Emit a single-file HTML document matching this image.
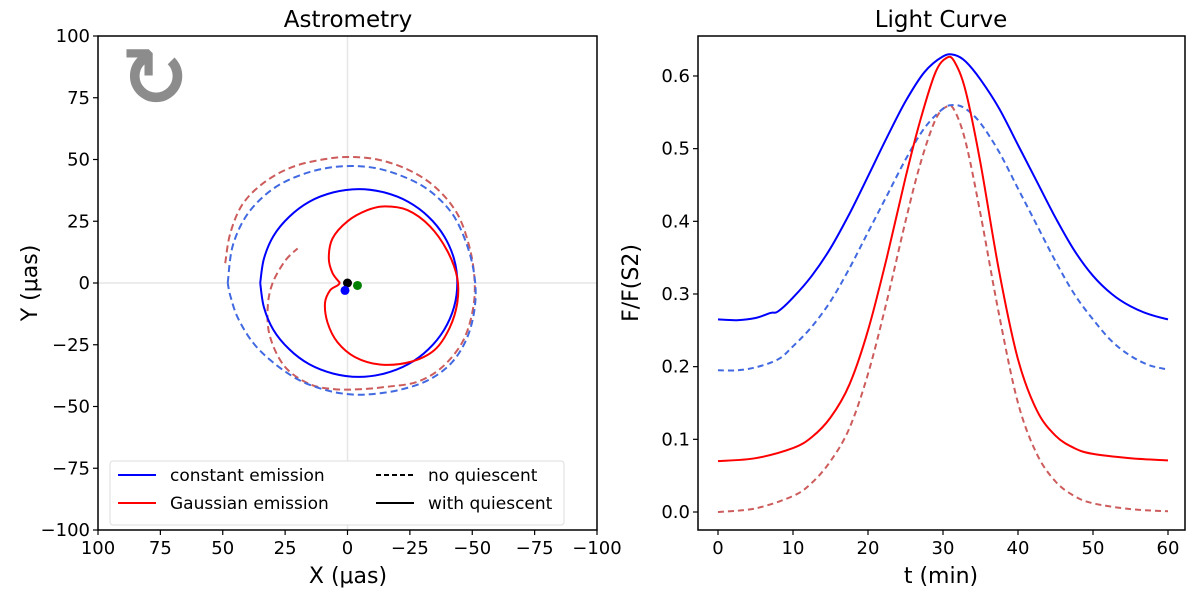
<!DOCTYPE html>
<html><head><meta charset="utf-8"><style>
body{margin:0;background:#fff;}
svg{display:block;font-family:"DejaVu Sans","Liberation Sans",sans-serif;}
</style></head><body>
<svg id="fig" width="1200" height="598" viewBox="0 0 1200 598">
</svg>
<script>
// ---------- Astrometry data (x, y in µas) ----------
const blueSolidX = [35,33.5,29.7,23.3,15.3,5.7,-4.5,-14.7,-24.3,-32.4,-38.7,-42.7,-44,-42.7,-38.7,-32.4,-24.3,-14.7,-4.5,5.7,15.3,23.3,29.7,33.5,35];
const blueSolidY = [0,9.8,19,26.9,32.9,36.7,38,36.7,32.9,26.9,19,9.8,0,-9.8,-19,-26.9,-32.9,-36.7,-38,-36.7,-32.9,-26.9,-19,-9.8,0];
const blueDashX = [48,46,40,30,18,5,-8,-20,-32,-42,-48,-51,-51,-48,-42,-33,-22,-10,0,10,20,30,38,44,47,48];
const blueDashY = [0,15,28,38,44,47,47,44,38,28,15,2,-10,-22,-32,-39,-43,-45,-45,-43,-39,-32,-24,-14,-5,0];
const redDashX = [49,47,42,33,22,10,0,-12,-24,-35,-44,-49,-51,-50,-46,-38,-28,-16,-5,5,15,25,31,32,30,25,20];
const redDashY = [8,20,32,41,47,50,51,50,46,39,28,14,0,-12,-24,-34,-40,-42,-43,-43,-41,-34,-22,-10,0,9,14];
const redSolidX = [3,6,7.5,6,0,-8,-15,-24,-33,-40,-44,-44,-41,-35,-25,-13,-3,4,8,9,7,4,3];
const redSolidY = [0,4,10,18,25,29.5,31,29.5,23,13,2,-8,-18,-27,-32,-33,-30,-24,-16,-8,-3,-1,0];
const dotX = [0,1,-4];
const dotY = [0,-3,-1];
const dotColors = ["#000000","#0000ff","#008000"];
const astroTicks = [100,75,50,25,0,-25,-50,-75,-100];

// ---------- Light curve data ----------
const tBS = [0,2.5,5,7,8,10,12.5,15,17.5,20,22.5,25,27.5,30,31.5,33,35,37.5,40,42.5,45,47.5,50,52.5,55,57.5,60];
const fBS = [0.265,0.264,0.267,0.274,0.276,0.295,0.325,0.363,0.41,0.462,0.515,0.565,0.605,0.627,0.629,0.62,0.595,0.555,0.505,0.455,0.405,0.36,0.325,0.3,0.283,0.272,0.265];
const tBD = [0,2.5,5,8,10,12.5,15,17.5,20,22.5,25,27.5,30,31.5,33,35,37.5,40,42.5,45,47.5,50,52.5,55,57.5,60];
const fBD = [0.195,0.195,0.199,0.21,0.228,0.255,0.29,0.335,0.385,0.435,0.485,0.528,0.555,0.56,0.555,0.535,0.495,0.445,0.395,0.345,0.3,0.265,0.235,0.215,0.202,0.196];
const tRS = [0,5,10,12.5,15,17.5,20,22.5,25,27,29,30.5,31.5,33,35,37.5,40,42.5,45,47.5,50,55,60];
const fRS = [0.07,0.074,0.088,0.103,0.13,0.175,0.25,0.35,0.46,0.54,0.605,0.625,0.62,0.58,0.48,0.33,0.21,0.14,0.105,0.088,0.08,0.074,0.071];
const tRD = [0,5,10,12.5,15,17.5,20,22.5,25,27,29,30.5,31.5,33,35,37.5,40,42.5,45,47.5,50,55,60];
const fRD = [0.0,0.005,0.022,0.04,0.07,0.115,0.19,0.29,0.4,0.48,0.54,0.558,0.553,0.51,0.41,0.27,0.15,0.08,0.042,0.022,0.012,0.004,0.001];
const lcXTicks = [0,10,20,30,40,50,60];
const lcYTicks = [0.0,0.1,0.2,0.3,0.4,0.5,0.6];

const NS="http://www.w3.org/2000/svg";
const svg=document.getElementById('fig');
function el(tag,attrs,parent){const e=document.createElementNS(NS,tag);for(const k in attrs)e.setAttribute(k,attrs[k]);(parent||svg).appendChild(e);return e;}
function txt(s,attrs){const e=el('text',attrs);e.textContent=s;return e;}

// Astrometry axes
const AL=98,AR=597,AT=36,AB=530;
const ax=v=>AL+(100-v)/200*(AR-AL);
const ay=v=>AT+(100-v)/200*(AB-AT);
let g=el('line',{x1:ax(0),x2:ax(0),y1:AT,y2:AB,stroke:'#e6e6e6','stroke-width':1.5});

g=el('line',{x1:AL,x2:AR,y1:ay(0),y2:ay(0),stroke:'#e6e6e6','stroke-width':1.5});

let ic=txt('↻',{x:155,y:106,'font-size':82,'text-anchor':'middle',fill:'#8c8c8c','font-weight':'bold'});


function smoothPath(P){
  let d='M'+P[0][0].toFixed(1)+','+P[0][1].toFixed(1);
  for(let i=0;i<P.length-1;i++){
    const p0=P[Math.max(0,i-1)],p1=P[i],p2=P[i+1],p3=P[Math.min(P.length-1,i+2)];
    const c1=[p1[0]+(p2[0]-p0[0])/6,p1[1]+(p2[1]-p0[1])/6];
    const c2=[p2[0]-(p3[0]-p1[0])/6,p2[1]-(p3[1]-p1[1])/6];
    d+=' C'+c1[0].toFixed(1)+','+c1[1].toFixed(1)+' '+c2[0].toFixed(1)+','+c2[1].toFixed(1)+' '+p2[0].toFixed(1)+','+p2[1].toFixed(1);
  }
  return d;
}
function poly(xs,ys,fx,fy,color,dash,name){
  const P=xs.map((x,i)=>[fx(x),fy(ys[i])]);
  const p=el('path',{d:smoothPath(P),fill:'none',stroke:color,'stroke-width':2,'stroke-dasharray':dash||'none','stroke-linejoin':'round'});
  
}
poly(redDashX,redDashY,ax,ay,'#cd5c5c','7,4','astro-gaussian-no-quiescent');
poly(blueDashX,blueDashY,ax,ay,'#4169e1','7,4','astro-constant-no-quiescent');
poly(blueSolidX,blueSolidY,ax,ay,'#0000ff',null,'astro-constant-with-quiescent');
poly(redSolidX,redSolidY,ax,ay,'#ff0000',null,'astro-gaussian-with-quiescent');
dotX.forEach((x,i)=>{const c=el('circle',{cx:ax(x),cy:ay(dotY[i]),r:4.5,fill:dotColors[i]});
  });

let fr=el('rect',{x:AL,y:AT,width:AR-AL,height:AB-AT,fill:'none',stroke:'#000','stroke-width':1.5});

astroTicks.forEach(v=>{
  el('line',{x1:ax(v),x2:ax(v),y1:AB,y2:AB+5,stroke:'#000','stroke-width':1.2});
  let t=txt(String(v).replace('-','−'),{x:ax(v),y:AB+24,'font-size':18,'text-anchor':'middle'});
  
  el('line',{x1:AL-5,x2:AL,y1:ay(v),y2:ay(v),stroke:'#000','stroke-width':1.2});
  t=txt(String(v).replace('-','−'),{x:AL-8,y:ay(v)+6,'font-size':18,'text-anchor':'end'});
  
});
let t=txt('Astrometry',{x:348,y:27,'font-size':23,'text-anchor':'middle'});

t=txt('X (μas)',{x:348,y:583,'font-size':22,'text-anchor':'middle'});

t=txt('Y (μas)',{x:0,y:0,'font-size':22,'text-anchor':'middle',transform:'translate(37,283) rotate(-90)'});


let lg=el('rect',{x:110,y:461,width:454,height:64,rx:3,fill:'#fff',stroke:'#ddd','stroke-width':1});

const legendItems=[['#0000ff',null,'constant emission',118,475],['#ff0000',null,'Gaussian emission',118,503],['#000',"5,3",'no quiescent',376,475],['#000',null,'with quiescent',376,503]];
legendItems.forEach(it=>{
  el('line',{x1:it[3],x2:it[3]+38,y1:it[4],y2:it[4],stroke:it[0],'stroke-width':2,'stroke-dasharray':it[1]||'none'});
  const tt=txt(it[2],{x:it[3]+52,y:it[4]+6,'font-size':17});
  
});

// Light curve axes
const LL=698,LR=1185,LT=36,LB=530;
const lx=v=>718+v*7.5;
const ly=v=>512-v*726.7;
poly(tRD,fRD,lx,ly,'#cd5c5c','6,4','lc-gaussian-no-quiescent');
poly(tBD,fBD,lx,ly,'#4169e1','6,4','lc-constant-no-quiescent');
poly(tRS,fRS,lx,ly,'#ff0000',null,'lc-gaussian-with-quiescent');
poly(tBS,fBS,lx,ly,'#0000ff',null,'lc-constant-with-quiescent');
fr=el('rect',{x:LL,y:LT,width:LR-LL,height:LB-LT,fill:'none',stroke:'#000','stroke-width':1.5});

lcXTicks.forEach(v=>{
  el('line',{x1:lx(v),x2:lx(v),y1:LB,y2:LB+5,stroke:'#000','stroke-width':1.2});
  const tt=txt(String(v),{x:lx(v),y:LB+24,'font-size':18,'text-anchor':'middle'});
  
});
lcYTicks.forEach(v=>{
  el('line',{x1:LL-5,x2:LL,y1:ly(v),y2:ly(v),stroke:'#000','stroke-width':1.2});
  const tt=txt(v.toFixed(1),{x:LL-8,y:ly(v)+6,'font-size':18,'text-anchor':'end'});
  
});
t=txt('Light Curve',{x:941,y:27,'font-size':23,'text-anchor':'middle'});

t=txt('t (min)',{x:941,y:583,'font-size':22,'text-anchor':'middle'});

t=txt('F/F(S2)',{x:0,y:0,'font-size':22,'text-anchor':'middle',transform:'translate(638,283) rotate(-90)'});

</script>
</body></html>
